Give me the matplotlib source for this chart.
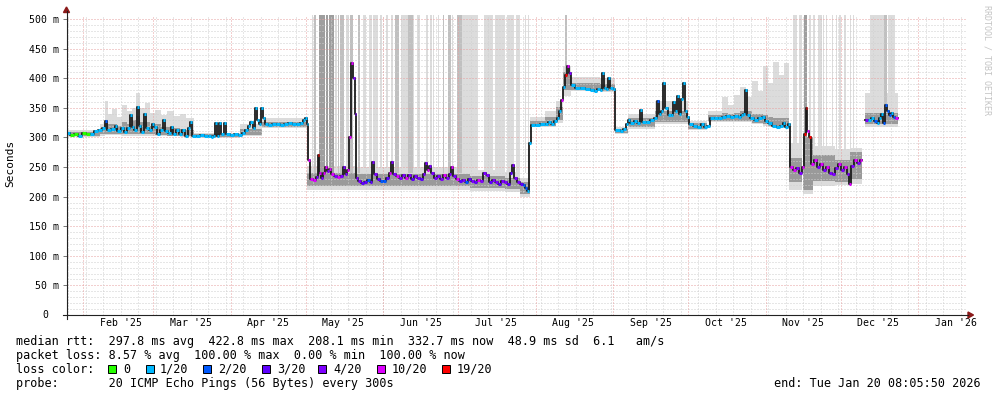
import matplotlib
matplotlib.use("Agg")
import matplotlib.pyplot as plt
from matplotlib.lines import Line2D
from matplotlib.patches import Rectangle, Polygon
from datetime import datetime, timedelta
import numpy as np

nan = float("nan")

# -----------------------------
# DATA  (time = days since graph start)
# -----------------------------
START = datetime(2025, 1, 25, 8, 5, 50)
SPAN_DAYS = 360

# median rtt, step points (ms) and loss colour index
days = [
    # Jan - Apr
    0.0, 1.2, 2.8, 4.4, 6.0, 7.6, 9.2, 10.8, 12.4, 14.0,
    15.2, 16.0, 17.6, 19.2, 20.0, 21.6, 22.8, 24.0, 25.2, 26.0,
    26.8, 28.0, 28.8, 29.6, 30.8, 31.6, 32.8, 34.0, 34.8, 36.0,
    37.2, 38.4, 39.2, 40.4, 41.6, 42.4, 43.6, 44.8, 46.0, 47.2,
    48.4, 49.2, 50.0, 51.6, 53.2, 54.8, 56.4, 57.6, 58.4, 59.2,
    60.0, 60.8, 61.6, 62.8, 63.6, 65.2, 66.8, 68.4, 70.0, 71.2,
    72.4, 73.2, 74.4, 75.2, 76.0, 76.8, 77.6, 78.4, 79.2, 80.4,
    82.0, 83.6, 85.2, 86.8, 88.4, 90.0, 91.6, 93.2, 94.4, 95.2,
    96.0, 96.4,
    # May - Jul
    97.2, 98.4, 99.6, 100.4, 100.8, 101.6, 102.4, 103.2, 104.0, 104.8,
    105.6, 106.8, 108.0, 109.2, 110.4, 111.2, 112.0, 112.8, 113.6, 114.4,
    115.2, 115.6, 116.4, 117.6, 118.8, 120.0, 121.2, 122.0, 122.8, 124.0,
    125.2, 126.4, 127.6, 128.8, 129.6, 130.4, 131.6, 132.8, 134.0, 135.2,
    136.4, 137.6, 138.8, 140.0, 141.2, 142.4, 143.2, 144.0, 144.8, 145.6,
    146.8, 148.0, 149.2, 150.4, 151.6, 152.8, 153.6, 154.4, 155.6, 156.8,
    158.0, 159.2, 160.4, 161.6, 162.8, 164.0, 165.2, 166.4, 167.6, 168.8,
    170.0, 171.2, 172.4, 173.6, 174.8, 176.0, 177.2, 178.0, 178.8, 180.0,
    181.2, 182.4, 183.2, 184.0, 184.8,
    # Aug - Oct
    185.6, 187.2, 189.2, 191.2, 192.4, 193.6, 194.8, 196.0, 196.8, 197.6,
    198.4, 199.2, 200.0, 200.8, 201.6, 203.2, 205.2, 207.2, 209.2, 210.8,
    212.0, 213.2, 214.0, 214.8, 215.6, 216.4, 217.2, 218.4, 219.2, 221.2,
    222.4, 223.6, 224.4, 225.2, 226.8, 228.0, 229.2, 230.0, 231.6, 233.2,
    234.8, 236.0, 236.8, 237.6, 238.4, 239.2, 240.4, 241.6, 242.4, 243.2,
    244.0, 244.8, 245.6, 246.4, 247.2, 248.0, 248.8, 250.4, 252.0, 253.6,
    254.8, 256.0, 257.2, 258.8, 260.4, 262.0, 263.6, 265.2, 266.8, 268.4,
    269.6, 270.4, 271.2, 272.0, 273.2, 274.8, 276.4, 278.0, 279.2, 280.4,
    282.0, 283.6, 285.2, 286.4, 287.2, 288.4,
    # Nov
    289.2, 290.4, 291.6, 292.8, 294.0, 294.8, 295.6, 296.0, 296.8, 297.6,
    298.8, 300.0, 301.2, 302.4, 303.6, 304.8, 306.0, 307.2, 308.4, 309.6,
    310.8, 312.0, 312.8, 313.6, 314.8, 316.0, 317.2, 318.0,
    # Dec
    319.2, 320.4, 321.6, 322.8, 324.0, 324.8, 325.6, 326.4, 327.2, 328.0,
    328.8, 329.6, 330.4, 331.2, 332.4,
]

rtt = [
    308, 304, 306, 303, 307, 305, 306, 310, 313, 316,
    328, 312, 314, 320, 310, 316, 309, 316, 338, 318,
    312, 352, 320, 309, 340, 316, 312, 322, 318, 306,
    313, 330, 311, 308, 318, 306, 312, 306, 312, 303,
    316, 326, 303, 302, 304, 302, 303, 301, 303, 324,
    303, 325, 305, 325, 306, 304, 306, 304, 308, 312,
    320, 326, 316, 350, 330, 322, 350, 332, 322, 321,
    322, 323, 321, 323, 324, 322, 322, 324, 330, 333,
    322, 262,
    230, 228, 233, 270, 240, 232, 240, 250, 243, 246,
    238, 235, 233, 234, 250, 238, 245, 300, 425, 400,
    340, 232, 226, 223, 225, 228, 224, 258, 238, 230,
    226, 226, 232, 240, 258, 238, 234, 232, 236, 232,
    236, 230, 234, 232, 230, 238, 256, 245, 252, 240,
    232, 234, 230, 236, 232, 238, 250, 235, 230, 226,
    228, 225, 230, 226, 224, 228, 226, 240, 236, 224,
    228, 225, 222, 226, 224, 222, 240, 254, 232, 224,
    222, 220, 215, 210, 290,
    321, 321, 322, 323, 326, 323, 327, 332, 345, 363,
    385, 405, 420, 408, 388, 383, 384, 382, 380, 378,
    382, 380, 408, 384, 382, 400, 383, 382, 312, 311,
    314, 322, 330, 324, 327, 324, 346, 326, 326, 330,
    333, 362, 340, 345, 392, 350, 338, 338, 360, 345,
    370, 340, 365, 392, 345, 335, 322, 320, 318, 322,
    318, 320, 332, 333, 332, 334, 336, 335, 336, 334,
    338, 340, 380, 338, 333, 330, 332, 335, 328, 325,
    320, 318, 320, 325, 318, 322,
    250, 245, 248, 240, 250, 305, 350, 310, 300, 255,
    262, 250, 255, 245, 250, 240, 238, 248, 255, 245,
    250, 238, 222, 252, 262, 256, 262, nan,
    330, 329, 333, 328, 325, 333, 340, 325, 355, 345,
    338, 342, 335, 332, nan,
]

loss = [
    1, 0, 0, 1, 0, 0, 1, 1, 1, 1,
    2, 1, 1, 1, 1, 1, 1, 1, 1, 1,
    1, 1, 1, 1, 1, 1, 1, 1, 1, 1,
    1, 1, 1, 1, 1, 1, 1, 1, 1, 1,
    1, 1, 1, 1, 1, 1, 1, 1, 1, 1,
    1, 1, 1, 1, 1, 1, 1, 1, 1, 1,
    1, 1, 1, 1, 1, 1, 1, 1, 1, 1,
    1, 1, 1, 1, 1, 1, 1, 1, 1, 1,
    1, 5,
    5, 5, 4, 6, 5, 4, 5, 5, 4, 5,
    5, 4, 5, 4, 4, 4, 5, 5, 5, 4,
    4, 4, 4, 3, 3, 2, 3, 4, 4, 3,
    2, 2, 3, 5, 4, 4, 5, 4, 4, 5,
    4, 3, 4, 4, 3, 4, 4, 5, 4, 4,
    4, 4, 4, 5, 4, 4, 5, 4, 5, 3,
    4, 2, 3, 4, 3, 5, 4, 4, 4, 3,
    4, 4, 3, 4, 4, 3, 3, 4, 4, 4,
    3, 2, 2, 1, 1,
    1, 1, 1, 1, 1, 1, 1, 1, 1, 5,
    1, 6, 5, 4, 1, 1, 1, 1, 1, 1,
    1, 1, 1, 1, 1, 1, 1, 1, 1, 1,
    1, 1, 1, 1, 1, 1, 1, 1, 1, 1,
    1, 2, 1, 1, 1, 1, 1, 1, 1, 1,
    1, 1, 1, 1, 1, 1, 1, 1, 1, 1,
    1, 1, 1, 1, 1, 1, 1, 1, 1, 1,
    1, 1, 1, 1, 1, 1, 1, 1, 1, 1,
    1, 1, 1, 1, 1, 1,
    5, 5, 4, 4, 5, 6, 6, 5, 6, 5,
    5, 4, 5, 4, 5, 4, 4, 4, 5, 4,
    5, 4, 5, 4, 5, 4, 5, 0,
    4, 1, 1, 2, 1, 1, 1, 2, 2, 2,
    2, 1, 2, 5, 0,
]

# smoke envelope (segment starts; last entry closes the previous segment)
smoke_days = [0.0, 13.2, 15.2, 16.4, 18.0, 20.0, 22.0, 24.0, 26.0, 27.6,
              29.2, 31.2, 33.2, 35.2, 37.6, 40.0, 42.8, 45.2, 47.6, 50.8,
              69.2, 78.0, 96.0, 115.2, 141.2, 161.2, 175.2, 181.2, 185.2, 191.2,
              195.6, 198.4, 201.6, 213.2, 219.2, 224.4, 235.2, 248.4, 256.4, 262.0,
              264.4, 266.8, 269.2, 271.6, 274.0, 276.4, 278.4, 280.4, 282.4, 284.8,
              286.8, 288.8, 294.4, 298.4, 307.2, 313.2, 318.0, 319.2, 332.4]
smoke_bot = [300, 303, 304, 304, 304, 304, 303, 303, 303, 303,
             303, 302, 302, 302, 302, 302, 302, 300, 300, 299,
             302, 316, 212, 212, 212, 210, 208, 200, 318, 318,
             325, 370, 378, 376, 306, 315, 322, 313, 326, 326,
             326, 326, 326, 326, 322, 322, 320, 318, 316, 316,
             316, 212, 205, 218, 220, 222, nan, 318, nan]
smoke_top = [312, 322, 362, 340, 348, 335, 355, 345, 350, 375,
             350, 358, 342, 346, 338, 344, 336, 340, 332, 308,
             322, 332, 252, 250, 250, 245, 242, 232, 335, 345,
             362, 420, 402, 400, 318, 340, 362, 328, 345, 368,
             355, 372, 385, 368, 395, 378, 420, 392, 428, 405,
             425, 290, 300, 285, 280, 282, nan, 375, nan]
core_bot = [302, 305, 306, 306, 306, 306, 305, 305, 306, 306,
            306, 305, 305, 304, 304, 303, 303, 302, 302, 300,
            304, 318, 218, 218, 218, 215, 213, 205, 319, 320,
            330, 380, 380, 378, 308, 318, 326, 315, 328, 328,
            328, 328, 328, 328, 324, 324, 322, 320, 318, 318,
            318, 225, 212, 226, 224, 230, nan, 322, nan]
core_top = [309, 316, 328, 322, 322, 320, 326, 322, 330, 336,
            326, 326, 320, 322, 318, 318, 316, 314, 312, 305,
            315, 326, 240, 238, 238, 234, 232, 225, 328, 334,
            352, 410, 392, 390, 314, 332, 345, 324, 338, 342,
            340, 342, 344, 344, 340, 340, 338, 334, 332, 332,
            332, 265, 300, 270, 262, 275, nan, 342, nan]

# pings far above the scale: stripes running off the top
stripe_start = [98.0, 98.8, 100.8, 103.6, 104.8, 107.2, 108.4, 109.2, 111.6, 113.2,
                116.4, 118.4, 120.8, 122.4, 125.2, 127.6, 129.6, 131.2, 133.6, 136.4,
                138.4, 140.0, 143.6, 145.2, 146.4, 148.4, 150.4, 152.4, 154.0, 156.0,
                158.0, 166.8, 171.2, 176.0, 179.6, 183.2, 184.4,
                199.2,
                290.4, 292.8, 294.8, 296.8, 298.4, 300.4, 302.4, 303.6, 306.0, 307.6,
                308.8, 310.8, 313.2, 314.4,
                321.2, 326.8, 328.4]
stripe_end = [98.4, 99.6, 103.2, 104.4, 106.8, 108.0, 108.8, 110.8, 112.8, 114.4,
              117.2, 119.6, 122.0, 124.4, 126.0, 128.4, 130.4, 132.8, 136.4, 138.4,
              139.2, 141.2, 144.4, 146.0, 147.2, 149.2, 151.2, 153.6, 154.4, 158.0,
              164.4, 170.4, 175.2, 178.8, 181.2, 183.6, 184.8,
              200.0,
              292.0, 294.0, 296.4, 297.6, 299.2, 302.0, 302.8, 304.4, 306.4, 308.0,
              309.6, 311.6, 313.6, 314.8,
              326.8, 328.4, 331.2]
stripe_shade = [0, 1, 2, 2, 2, 0, 1, 1, 0, 1,
                1, 0, 0, 0, 0, 0, 0, 1, 0, 1,
                0, 0, 0, 0, 0, 0, 1, 1, 0, 1,
                0, 0, 0, 0, 0, 0, 0,
                1,
                0, 0, 2, 0, 0, 0, 0, 0, 0, 0,
                0, 0, 0, 0,
                0, 1, 0]
stripe_base = [240] * 37 + [390] + [255] * 14 + [340] * 3

loss_colors = ["#26ff00", "#00b8ff", "#0059ff", "#5e00ff", "#7e00ff", "#dd00ff", "#ff0000"]
loss_labels = ["0", "1/20", "2/20", "3/20", "4/20", "10/20", "19/20"]
shade_colors = ["#dcdcdc", "#c0c0c0", "#9e9e9e"]

# -----------------------------
# LAYOUT (pixels)
# -----------------------------
W, H = 997, 397
X0, X1 = 66.5, 966.5
Y0, Y1 = 315, 15
Y_TOP = 506.8
MONO = "DejaVu Sans Mono"

fig = plt.figure(figsize=(W / 100, H / 100), dpi=100)
fig.patch.set_facecolor("white")
ax = fig.add_axes([X0 / W, 1 - Y0 / H, (X1 - X0) / W, (Y0 - Y1) / H])
ax.set_xlim(0, SPAN_DAYS)
ax.set_ylim(0, Y_TOP)
for s in ax.spines.values():
    s.set_visible(False)


def fx(px):
    return px / W


def fy(py):
    return 1 - py / H


# -----------------------------
# SMOKE
# -----------------------------
sd = np.array(smoke_days)
for lo, hi, col, z in [(smoke_bot, smoke_top, "#dcdcdc", 1),
                       (core_bot, core_top, "#9a9a9a", 2)]:
    lo = np.array(lo[:-1], dtype=float)
    hi = np.array(hi[:-1], dtype=float)
    ok = ~np.isnan(lo)
    ax.bar(sd[:-1][ok], (hi - lo)[ok], width=np.diff(sd)[ok], bottom=lo[ok],
           align="edge", color=col, linewidth=0, zorder=z)

st = np.array(stripe_start)
ax.bar(st, Y_TOP - np.array(stripe_base), width=np.array(stripe_end) - st,
       bottom=stripe_base, align="edge", linewidth=0, zorder=1.5,
       color=[shade_colors[i] for i in stripe_shade])

# -----------------------------
# GRID
# -----------------------------
MINOR = "#cfcfcf"
MAJOR = "#e6a0a0"
for v in range(10, 501, 10):
    ax.axhline(v, color=MAJOR if v % 50 == 0 else MINOR, lw=0.72,
               ls=(0, (1, 2)), zorder=2.5)

week = datetime(2025, 1, 26)
while week < START + timedelta(days=SPAN_DAYS):
    ax.axvline((week - START).total_seconds() / 86400, color=MINOR, lw=0.72,
               ls=(0, (1, 2)), zorder=2.5)
    week += timedelta(days=7)

months = [datetime(2025, m, 1) for m in range(2, 13)] + [datetime(2026, 1, 1)]
month_days = [(m - START).total_seconds() / 86400 for m in months]
for d in month_days:
    ax.axvline(d, color=MAJOR, lw=0.72, ls=(0, (1, 2)), zorder=2.6)

# -----------------------------
# MEDIAN LINE
# -----------------------------
d = np.array(days)
r = np.array(rtt, dtype=float)
ok = ~np.isnan(r[:-1])
ax.step(d, r, where="post", color="#1a1a1a", lw=1.3, zorder=4)
ax.hlines(r[:-1][ok], d[:-1][ok], d[1:][ok],
          colors=[loss_colors[i] for i in np.array(loss[:-1])[ok]], lw=2.2, zorder=5)

# -----------------------------
# TICKS
# -----------------------------
ax.set_xticks([m + 15 for m in month_days])
ax.set_xticklabels([m.strftime("%b '%y") for m in months], family=MONO, fontsize=7.1)
ax.tick_params(axis="x", length=0, pad=2.5)

yt = list(range(50, 501, 50))
ax.set_yticks(yt)
ax.set_yticklabels([f"{v} m" for v in yt], family=MONO, fontsize=7.1)
ax.tick_params(axis="y", length=3, width=0.7, color="#777777", pad=2.2)
ax.annotate("0", xy=(0, 0), xycoords=("axes fraction", "data"), xytext=(-13.3, 0),
            textcoords="offset points", ha="right", va="center", family=MONO, fontsize=7.1)

# axis lines with arrows
fig.add_artist(Line2D([fx(63), fx(968)], [fy(315), fy(315)], color="#222222", lw=0.8))
fig.add_artist(Line2D([fx(X0), fx(X0)], [fy(319), fy(11)], color="#222222", lw=0.8))
fig.add_artist(Polygon([(fx(968), fy(312)), (fx(968), fy(318)), (fx(973.5), fy(315))],
                       closed=True, color="#8b1a1a", transform=fig.transFigure))
fig.add_artist(Polygon([(fx(63.5), fy(12.5)), (fx(69.5), fy(12.5)), (fx(X0), fy(7))],
                       closed=True, color="#8b1a1a", transform=fig.transFigure))

fig.text(fx(10), fy(163), "Seconds", rotation=90, ha="center", va="center",
         family=MONO, fontsize=8)
fig.text(fx(987), fy(60), "RRDTOOL / TOBI OETIKER", rotation=270, ha="center",
         va="center", family=MONO, fontsize=6, color="#c4c4c4")

# -----------------------------
# LEGEND
# -----------------------------
LX = 16
fig.text(fx(LX), fy(341.5), "median rtt:  297.8 ms avg  422.8 ms max  208.1 ms min  "
         "332.7 ms now  48.9 ms sd  6.1   am/s", va="center", family=MONO, fontsize=8.5)
fig.text(fx(LX), fy(355.5), "packet loss: 8.57 % avg  100.00 % max  0.00 % min  "
         "100.00 % now", va="center", family=MONO, fontsize=8.5)
fig.text(fx(LX), fy(369.5), "loss color:", va="center", family=MONO, fontsize=8.5)
fig.text(fx(LX), fy(383.5), "probe:       20 ICMP Echo Pings (56 Bytes) every 300s",
         va="center", family=MONO, fontsize=8.5)
fig.text(fx(981), fy(383.5), "end: Tue Jan 20 08:05:50 2026", ha="right", va="center",
         family=MONO, fontsize=8.5)

box_x = [108, 146, 203, 262, 318, 377, 442]
text_x = [123, 160, 218, 277, 333, 392, 457]
for bx, tx, col, lab in zip(box_x, text_x, loss_colors, loss_labels):
    fig.add_artist(Rectangle((fx(bx), fy(373)), 8 / W, 8 / H, transform=fig.transFigure,
                             facecolor=col, edgecolor="black", lw=0.7))
    fig.text(fx(tx), fy(369.5), lab, va="center", family=MONO, fontsize=8.5)

fig.savefig("out.png", dpi=100, facecolor="white")
